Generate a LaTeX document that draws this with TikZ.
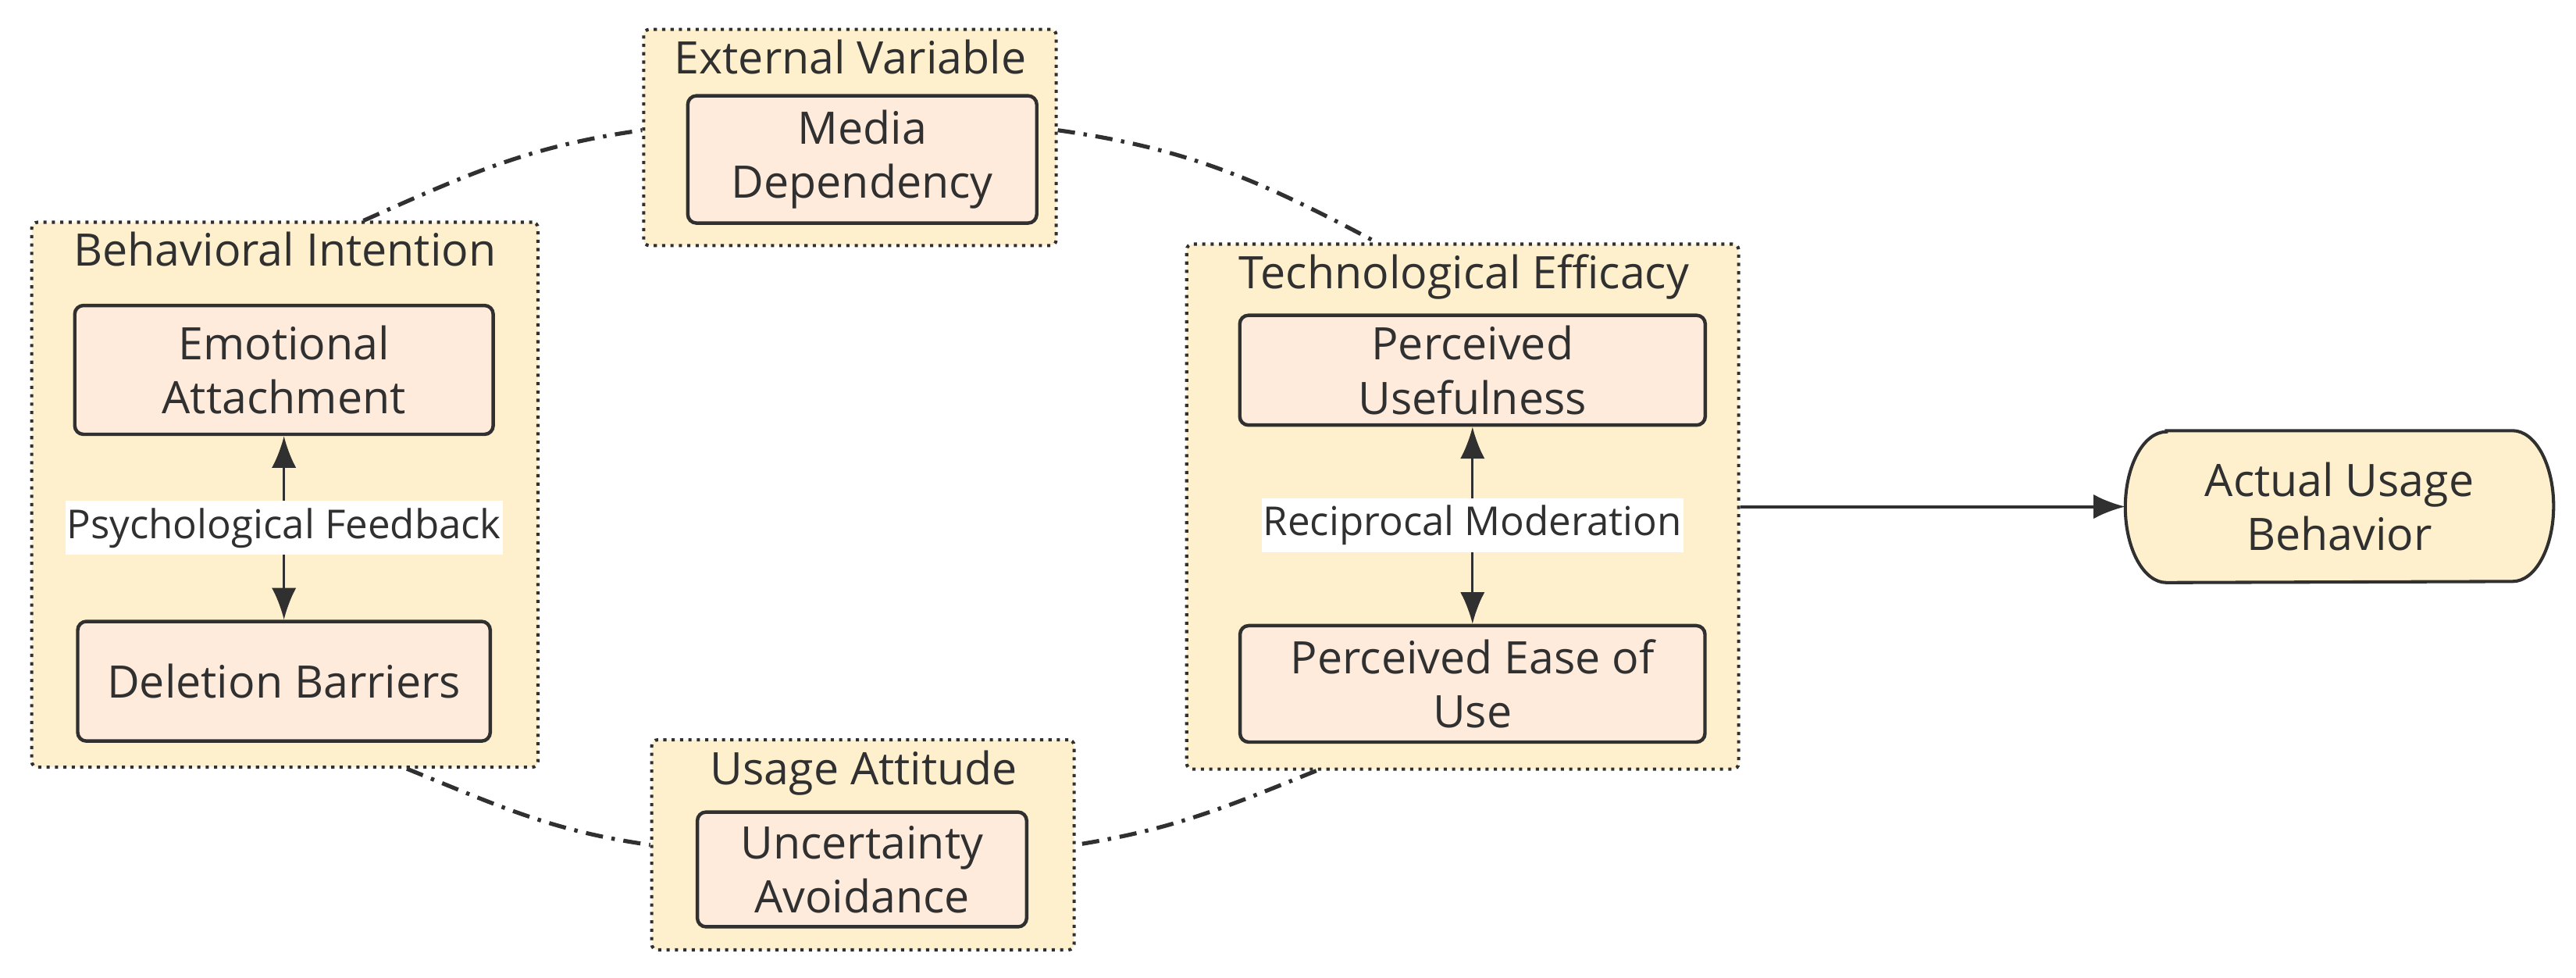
\documentclass[tikz,border=0pt]{standalone}
\usepackage{fontspec}
\setmainfont{Open Sans}
\usetikzlibrary{arrows.meta,backgrounds}

\definecolor{grpfill}{HTML}{FFF0CD}
\definecolor{boxfill}{HTML}{FFEBDC}
\definecolor{ink}{HTML}{303030}

\begin{document}
\begin{tikzpicture}[
	grp/.style={draw=ink, line width=1.1pt, dash pattern=on 1.1pt off 1.8pt, fill=grpfill, rounded corners=2pt, inner sep=0pt},
	ttl/.style={anchor=base, text=ink, font=\fontsize{15.5}{18.7}\selectfont},
	box/.style={draw=ink, line width=1.2pt, fill=boxfill, rounded corners=3pt, align=center, text=ink, inner sep=0pt, font=\fontsize{15.5}{18.7}\selectfont},
	lbl/.style={fill=white, text=ink, inner xsep=0.5pt, inner ysep=2.4pt, font=\fontsize{13.8}{16.5}\selectfont},
	link/.style={draw=ink, line width=1.4pt, dash pattern=on 6pt off 3pt on 1.2pt off 3pt},
	twoway/.style={draw=ink, fill=ink, line width=0.9pt, arrows={Latex[length=11pt,width=8.5pt]-Latex[length=11pt,width=8.5pt]}},
	oneway/.style={draw=ink, fill=ink, line width=1.1pt, arrows={-Latex[length=11pt,width=8.5pt]}}
	]
	
	\useasboundingbox (0,0) rectangle (31.36,-11.892);
	
	\node[grp, minimum width=5.022cm, minimum height=2.632cm] (ext) at (10.347,-1.673) {};
	\node[ttl] (extT) at (10.352,-0.902) {External Variable};
	\node[box, minimum width=4.248cm, minimum height=1.549cm] (media) at (10.497,-1.94) {Media\\Dependency};
	
	\node[grp, minimum width=6.163cm, minimum height=6.631cm] (behav) at (3.468,-6.02) {};
	\node[ttl] (behavT) at (3.469,-3.241) {Behavioral Intention};
	\node[box, minimum width=5.094cm, minimum height=1.568cm] (emo) at (3.457,-4.501) {Emotional\\Attachment};
	\node[box, minimum width=5.022cm, minimum height=1.456cm] (del) at (3.457,-8.29) {Deletion Barriers};
	
	\node[grp, minimum width=6.719cm, minimum height=6.389cm] (tech) at (17.806,-6.165) {};
	\node[ttl] (techT) at (17.824,-3.514) {Technological Efficacy};
	\node[box, minimum width=5.667cm, minimum height=1.336cm] (useful) at (17.926,-4.505) {Perceived\\Usefulness};
	\node[box, minimum width=5.66cm, minimum height=1.417cm] (ease) at (17.926,-8.322) {Perceived Ease of\\Use};
	
	\node[grp, minimum width=5.142cm, minimum height=2.556cm] (usage) at (10.505,-10.281) {};
	\node[ttl] (usageT) at (10.517,-9.548) {Usage Attitude};
	\node[box, minimum width=4.009cm, minimum height=1.396cm] (uncert) at (10.494,-10.58) {Uncertainty\\Avoidance};
	
	\node[align=center, text=ink, inner sep=0pt, minimum width=5.2cm, minimum height=1.835cm, font=\fontsize{15.5}{18.7}\selectfont] (act) at (28.48,-6.165) {Actual Usage\\Behavior};
	\begin{scope}[on background layer]
		\draw[draw=ink, line width=1.1pt, fill=grpfill] ([xshift=0.5cm]act.north west) -- ([xshift=-0.5cm]act.north east)
		arc[start angle=90, end angle=-90, x radius=0.5cm, y radius=0.9175cm] -- ([xshift=0.5cm]act.south west)
		arc[start angle=-90, end angle=-270, x radius=0.5cm, y radius=0.9175cm] -- cycle;
	\end{scope}
	
	\draw[twoway] (emo) -- node[lbl] {Psychological Feedback} (del);
	\draw[twoway] (useful) -- node[lbl] {Reciprocal Moderation} (ease);
	\draw[oneway] (tech.east) -- (act.west);
	
	\draw[link] (behav.74) to[out=24,in=188] (ext.178);
	\draw[link] (ext.2) to[out=-8,in=152] (tech.108);
	\draw[link] (tech.241) to[out=202,in=9] (usage.east);
	\draw[link] (behav.294) to[out=-22,in=172] (usage.west);
	
\end{tikzpicture}
\end{document}
